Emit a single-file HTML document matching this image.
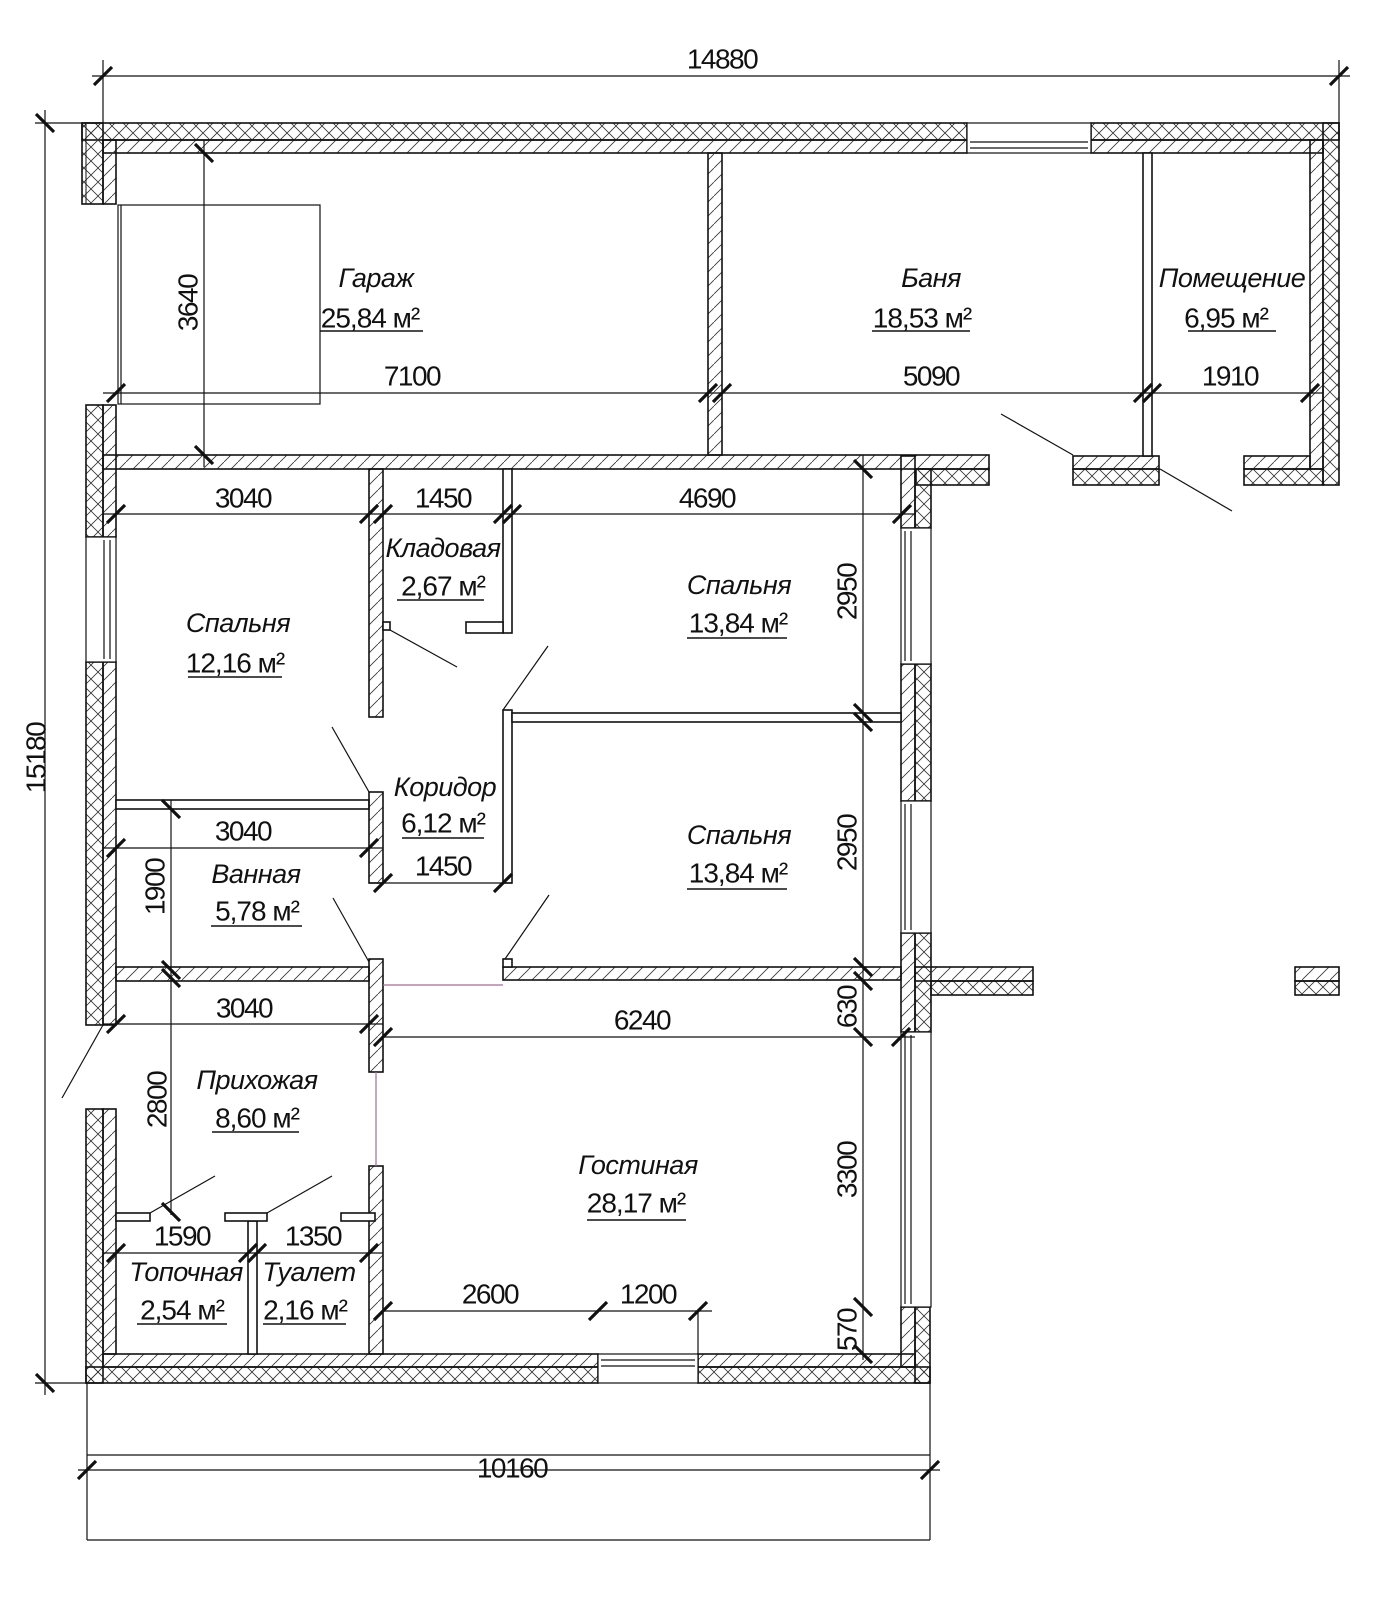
<!DOCTYPE html>
<html><head><meta charset="utf-8"><style>
html,body{margin:0;padding:0;background:#fff}
svg{display:block}
text{font-family:"Liberation Sans","DejaVu Sans",sans-serif;fill:#111}
.d{font-size:28px;letter-spacing:-1.5px}
.n{font-size:27px;font-style:italic;letter-spacing:-0.5px}
.a{font-size:28px;letter-spacing:-1px}
</style></head><body>
<svg width="1398" height="1600" viewBox="0 0 1398 1600" xmlns="http://www.w3.org/2000/svg">
<defs>
<pattern id="h" patternUnits="userSpaceOnUse" width="14" height="14"><path d="M-2,16 L16,-2" stroke="#333" stroke-width="0.8"/></pattern>
<pattern id="c" patternUnits="userSpaceOnUse" width="14" height="14"><path d="M0,14 L14,0 M0,0 L14,14" stroke="#333" stroke-width="0.8"/></pattern>
</defs>
<g stroke="#111" stroke-width="1.6">
<rect x="82" y="123" width="885" height="17" fill="url(#c)"/>
<rect x="1091" y="123" width="248" height="17" fill="url(#c)"/>
<rect x="103" y="140" width="864" height="13" fill="url(#h)"/>
<rect x="1091" y="140" width="232" height="13" fill="url(#h)"/>
<rect x="82" y="123" width="21" height="81" fill="url(#c)"/>
<rect x="103" y="140" width="13" height="64" fill="url(#h)"/>
<rect x="1323" y="123" width="16" height="362" fill="url(#c)"/>
<rect x="1310" y="140" width="13" height="329" fill="url(#h)"/>
<rect x="1244" y="469" width="79" height="16" fill="url(#c)"/>
<rect x="1244" y="456" width="66" height="13" fill="url(#h)"/>
<rect x="1073" y="469" width="86" height="16" fill="url(#c)"/>
<rect x="1073" y="456" width="86" height="13" fill="url(#h)"/>
<rect x="916" y="469" width="73" height="16" fill="url(#c)"/>
<rect x="103" y="455" width="886" height="14" fill="url(#h)"/>
<rect x="708" y="153" width="14" height="302" fill="url(#h)"/>
<rect x="1143" y="153" width="9" height="303" fill="#fff"/>
<rect x="86" y="405" width="17" height="132" fill="url(#c)"/>
<rect x="103" y="405" width="13" height="132" fill="url(#h)"/>
<rect x="86" y="662" width="17" height="363" fill="url(#c)"/>
<rect x="103" y="662" width="13" height="363" fill="url(#h)"/>
<rect x="86" y="1109" width="17" height="274" fill="url(#c)"/>
<rect x="103" y="1109" width="13" height="245" fill="url(#h)"/>
<rect x="86" y="1367" width="512" height="16" fill="url(#c)"/>
<rect x="103" y="1354" width="495" height="13" fill="url(#h)"/>
<rect x="698" y="1367" width="232" height="16" fill="url(#c)"/>
<rect x="698" y="1354" width="217" height="13" fill="url(#h)"/>
<rect x="915" y="1307" width="15" height="76" fill="url(#c)"/>
<rect x="901" y="1307" width="14" height="60" fill="url(#h)"/>
<rect x="915" y="469" width="16" height="59" fill="url(#c)"/>
<rect x="901" y="456" width="14" height="72" fill="url(#h)"/>
<rect x="915" y="664" width="16" height="137" fill="url(#c)"/>
<rect x="901" y="664" width="14" height="137" fill="url(#h)"/>
<rect x="915" y="933" width="16" height="99" fill="url(#c)"/>
<rect x="901" y="933" width="14" height="99" fill="url(#h)"/>
<rect x="931" y="981" width="102" height="14" fill="url(#c)"/>
<rect x="915" y="967" width="118" height="14" fill="url(#h)"/>
<rect x="1295" y="981" width="44" height="14" fill="url(#c)"/>
<rect x="1295" y="967" width="44" height="14" fill="url(#h)"/>
<rect x="369" y="469" width="14" height="248" fill="url(#h)"/>
<rect x="503" y="469" width="9" height="164" fill="#fff"/>
<rect x="466" y="622" width="37" height="11" fill="#fff"/>
<rect x="383" y="622" width="7" height="8" fill="#fff"/>
<rect x="503" y="710" width="9" height="173" fill="#fff"/>
<rect x="512" y="713" width="389" height="9" fill="#fff"/>
<rect x="116" y="800" width="253" height="9" fill="#fff"/>
<rect x="369" y="792" width="14" height="91" fill="url(#h)"/>
<rect x="116" y="967" width="253" height="14" fill="url(#h)"/>
<rect x="503" y="967" width="398" height="13" fill="url(#h)"/>
<rect x="503" y="959" width="9" height="8" fill="#fff"/>
<rect x="369" y="959" width="14" height="113" fill="url(#h)"/>
<rect x="369" y="1166" width="14" height="188" fill="url(#h)"/>
<rect x="248" y="1221" width="9" height="133" fill="#fff"/>
<rect x="116" y="1213" width="34" height="8" fill="#fff"/>
<rect x="225" y="1213" width="42" height="8" fill="#fff"/>
<rect x="341" y="1213" width="34" height="8" fill="#fff"/>
</g>
<line x1="86" y1="123" x2="86" y2="204" stroke="#111" stroke-width="1"/>
<g stroke="#111" fill="#fff" stroke-width="1.2">
<rect x="967" y="123" width="124" height="30"/>
<line x1="970" y1="142" x2="1088" y2="142"/><line x1="970" y1="148" x2="1088" y2="148"/>
<rect x="86" y="537" width="30" height="125"/>
<line x1="104" y1="540" x2="104" y2="659"/><line x1="110" y1="540" x2="110" y2="659"/>
<rect x="901" y="528" width="30" height="136"/>
<line x1="905" y1="531" x2="905" y2="661"/><line x1="911" y1="531" x2="911" y2="661"/>
<rect x="901" y="801" width="30" height="132"/>
<line x1="905" y1="804" x2="905" y2="930"/><line x1="911" y1="804" x2="911" y2="930"/>
<rect x="901" y="1032" width="30" height="275"/>
<line x1="905" y1="1035" x2="905" y2="1304"/><line x1="911" y1="1035" x2="911" y2="1304"/>
<rect x="598" y="1354" width="100" height="29"/>
<line x1="601" y1="1360" x2="695" y2="1360"/><line x1="601" y1="1366" x2="695" y2="1366"/>
</g>
<g stroke="#111" fill="none" stroke-width="1.2">
<rect x="118" y="205" width="202" height="199"/>
<line x1="121" y1="205" x2="121" y2="404"/>
<line x1="383" y1="985" x2="503" y2="985" stroke="#a07090"/>
<line x1="376" y1="1072" x2="376" y2="1166" stroke="#a07090"/>
<line x1="390" y1="630" x2="457" y2="667"/>
<line x1="503" y1="710" x2="548" y2="646"/>
<line x1="369" y1="792" x2="332" y2="727"/>
<line x1="369" y1="962" x2="333" y2="898"/>
<line x1="505" y1="959" x2="549" y2="895"/>
<line x1="1073" y1="455" x2="1001" y2="414"/>
<line x1="1160" y1="469" x2="1232" y2="511"/>
<line x1="103" y1="1025" x2="62" y2="1098"/>
<line x1="150" y1="1213" x2="215" y2="1176"/>
<line x1="267" y1="1213" x2="332" y2="1176"/>
<line x1="92" y1="76" x2="1350" y2="76"/>
<line x1="103" y1="60" x2="103" y2="123"/><line x1="1339" y1="60" x2="1339" y2="123"/>
<line x1="45" y1="110" x2="45" y2="1395"/>
<line x1="35" y1="123" x2="82" y2="123"/><line x1="35" y1="1383" x2="86" y2="1383"/>
<line x1="204" y1="140" x2="204" y2="467"/>
<line x1="103" y1="393" x2="1323" y2="393"/>
<line x1="103" y1="514" x2="916" y2="514"/>
<line x1="863" y1="455" x2="863" y2="1360"/>
<line x1="103" y1="848" x2="383" y2="848"/>
<line x1="369" y1="883" x2="512" y2="883"/>
<line x1="171" y1="800" x2="171" y2="1215"/>
<line x1="103" y1="1024" x2="383" y2="1024"/>
<line x1="383" y1="1037" x2="915" y2="1037"/>
<line x1="103" y1="1253" x2="383" y2="1253"/>
<line x1="383" y1="1311" x2="712" y2="1311"/>
<line x1="698" y1="1311" x2="698" y2="1354"/>
<line x1="87" y1="1383" x2="87" y2="1540"/><line x1="930" y1="1383" x2="930" y2="1540"/>
<line x1="87" y1="1540" x2="930" y2="1540"/>
<line x1="87" y1="1455" x2="930" y2="1455"/>
<line x1="78" y1="1470" x2="940" y2="1470"/>
</g>
<g stroke="#111" stroke-width="3.2" fill="none">
<path d="M94,85 l18,-18 M1330,85 l18,-18
M36,114 l18,18 M36,1374 l18,18
M195,144 l18,18 M195,446 l18,18
M107,402 l18,-18 M699,402 l18,-18 M713,402 l18,-18 M1134,402 l18,-18 M1143,402 l18,-18 M1301,402 l18,-18
M107,523 l18,-18 M360,523 l18,-18 M374,523 l18,-18 M494,523 l18,-18 M503,523 l18,-18 M893,523 l18,-18
M854,460 l18,18 M854,704 l18,18 M854,713 l18,18 M854,958 l18,18 M854,972 l18,18 M854,1028 l18,18 M854,1298 l18,18 M854,1345 l18,18
M107,857 l18,-18 M360,857 l18,-18
M374,892 l18,-18 M494,892 l18,-18
M162,800 l18,18 M162,961 l18,18 M162,969 l18,18 M162,1203 l18,18
M107,1033 l18,-18 M360,1033 l18,-18
M374,1046 l18,-18 M892,1046 l18,-18
M107,1262 l18,-18 M239,1262 l18,-18 M248,1262 l18,-18 M360,1262 l18,-18
M374,1320 l18,-18 M589,1320 l18,-18 M689,1320 l18,-18
M78,1479 l18,-18 M921,1479 l18,-18"/>
</g>
<g class="d" text-anchor="middle" dominant-baseline="central">
<text x="722" y="59">14880</text>
<text x="412" y="376">7100</text>
<text x="931" y="376">5090</text>
<text x="1230" y="376">1910</text>
<text x="243" y="498">3040</text>
<text x="443" y="498">1450</text>
<text x="707" y="498">4690</text>
<text x="243" y="831">3040</text>
<text x="443" y="866">1450</text>
<text x="244" y="1008">3040</text>
<text x="642" y="1020">6240</text>
<text x="182" y="1236">1590</text>
<text x="313" y="1236">1350</text>
<text x="490" y="1294">2600</text>
<text x="648" y="1294">1200</text>
<text x="512" y="1468">10160</text>
<text transform="translate(36,758) rotate(-90)">15180</text>
<text transform="translate(188,303) rotate(-90)">3640</text>
<text transform="translate(847,592) rotate(-90)">2950</text>
<text transform="translate(847,843) rotate(-90)">2950</text>
<text transform="translate(847,1007) rotate(-90)">630</text>
<text transform="translate(847,1170) rotate(-90)">3300</text>
<text transform="translate(847,1330) rotate(-90)">570</text>
<text transform="translate(155,887) rotate(-90)">1900</text>
<text transform="translate(157,1100) rotate(-90)">2800</text>
</g>
<g text-anchor="middle" dominant-baseline="central">
<text class="n" x="376" y="278">Гараж</text><text class="a" x="370" y="318">25,84 м²</text>
<text class="n" x="931" y="278">Баня</text><text class="a" x="922" y="318">18,53 м²</text>
<text class="n" x="1232" y="278">Помещение</text><text class="a" x="1226" y="318">6,95 м²</text>
<text class="n" x="443" y="548">Кладовая</text><text class="a" x="443" y="586">2,67 м²</text>
<text class="n" x="238" y="623">Спальня</text><text class="a" x="235" y="663">12,16 м²</text>
<text class="n" x="739" y="585">Спальня</text><text class="a" x="738" y="623">13,84 м²</text>
<text class="n" x="445" y="787">Коридор</text><text class="a" x="443" y="823">6,12 м²</text>
<text class="n" x="739" y="835">Спальня</text><text class="a" x="738" y="873">13,84 м²</text>
<text class="n" x="256" y="874">Ванная</text><text class="a" x="257" y="911">5,78 м²</text>
<text class="n" x="257" y="1080">Прихожая</text><text class="a" x="257" y="1118">8,60 м²</text>
<text class="n" x="638" y="1165">Гостиная</text><text class="a" x="636" y="1203">28,17 м²</text>
<text class="n" x="186" y="1272">Топочная</text><text class="a" x="182" y="1310">2,54 м²</text>
<text class="n" x="309" y="1272">Туалет</text><text class="a" x="305" y="1310">2,16 м²</text>
</g>
<g stroke="#111" stroke-width="1.6">
<line x1="320" y1="331" x2="423" y2="331"/>
<line x1="872" y1="331" x2="970" y2="331"/>
<line x1="1188" y1="331" x2="1276" y2="331"/>
<line x1="397" y1="600" x2="484" y2="600"/>
<line x1="188" y1="677" x2="282" y2="677"/>
<line x1="687" y1="638" x2="787" y2="638"/>
<line x1="402" y1="838" x2="484" y2="838"/>
<line x1="687" y1="889" x2="787" y2="889"/>
<line x1="211" y1="926" x2="302" y2="926"/>
<line x1="212" y1="1132" x2="299" y2="1132"/>
<line x1="587" y1="1220" x2="686" y2="1220"/>
<line x1="137" y1="1324" x2="227" y2="1324"/>
<line x1="263" y1="1324" x2="346" y2="1324"/>
</g>
</svg>
</body></html>
